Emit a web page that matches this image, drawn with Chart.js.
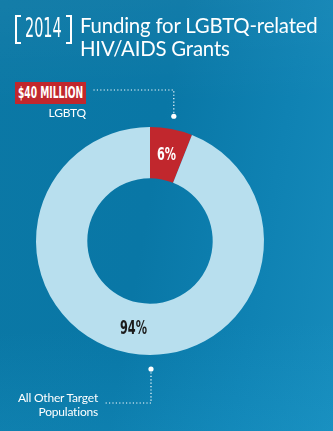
<!DOCTYPE html>
<html>
<head>
<meta charset="utf-8">
<script src="https://cdn.jsdelivr.net/npm/chart.js@4"></script>
<style>
  html, body { margin: 0; padding: 0; }
  body {
    width: 333px; height: 431px; overflow: hidden; position: relative;
    background:
      linear-gradient(178deg, rgba(255,255,255,0.04) 0%, rgba(255,255,255,0) 25%, rgba(0,0,0,0) 75%, rgba(40,170,220,0.18) 100%),
      linear-gradient(100deg, #0b78a5 0%, #0977a6 45%, #0f82b3 75%, #168bbb 100%);
    font-family: Lato, "Open Sans", sans-serif; color: #fff;
  }
  #chart { position: absolute; left: 0; top: 0; }
  .bracket { position: absolute; top: 15px; width: 4px; height: 25px; border: 2px solid #fff; }
  .bracket.l { left: 15px; border-right: none; }
  .bracket.r { left: 66px; border-left: none; }
  .fit { position: absolute; white-space: nowrap; transform-origin: left top;
         font-family: "DejaVu Sans Condensed", sans-serif; font-weight: bold; }
  .year { left: 25px; top: 13px; font-size: 26px; line-height: 30px; font-weight: normal; }
  .title { position: absolute; left: 80px; top: 14px; font-size: 20.4px; line-height: 23px; font-weight: 400; letter-spacing: -0.2px; }
  .amount { position: absolute; left: 15px; top: 82px; width: 71px; height: 22px; background: #c1272d; }
  .amount .fit { left: 3px; top: 2px; font-size: 15px; line-height: 18px; }
  .lbl { position: absolute; font-size: 12px; line-height: 14px; text-align: right; font-weight: 400; letter-spacing: -0.2px; }
</style>
</head>
<body>
<canvas id="chart" width="333" height="431"></canvas>
<div class="bracket l"></div><div class="bracket r"></div>
<div class="fit year" data-w="37">2014</div>
<div class="title">Funding for LGBTQ-related<br>HIV/AIDS Grants</div>
<div class="amount"><div class="fit" data-w="65">$40 MILLION</div></div>
<div class="lbl" style="right:247px; top:106px;">LGBTQ</div>
<div class="lbl" style="right:235px; top:391px;">All Other Target<br>Populations</div>
<script>
// Share of 2014 HIV/AIDS grant dollars
const categories = ['LGBTQ', 'All Other Target Populations'];
const shares = [6, 94];
const sliceColors = ['#c1272d', '#b8dfee'];
const labelColors = ['#ffffff', '#1b1b1b'];
const labelWidths = [19, 27];
const labelSizes = [18, 20];

// squeeze the condensed headings to their set widths
document.querySelectorAll('.fit').forEach(el => {
  el.style.transform = 'scaleX(' + (el.dataset.w / el.offsetWidth) + ')';
});

// percentages inside the ring + dotted leader lines to the callouts
const ringLabels = {
  id: 'ringLabels',
  afterDatasetsDraw(chart) {
    const ctx = chart.ctx;
    const arcs = chart.getDatasetMeta(0).data;
    ctx.save();
    arcs.forEach((arc, i) => {
      const p = arc.tooltipPosition();
      const txt = shares[i] + '%';
      ctx.save();
      ctx.font = 'bold ' + labelSizes[i] + 'px "DejaVu Sans Condensed", sans-serif';
      const sx = labelWidths[i] / ctx.measureText(txt).width;
      ctx.translate(p.x, p.y);
      ctx.scale(sx, 1);
      ctx.fillStyle = labelColors[i];
      ctx.textAlign = 'center';
      ctx.textBaseline = 'middle';
      ctx.fillText(txt, 0, 1);
      ctx.restore();
    });

    const a0 = arcs[0];
    const mid = (a0.startAngle + a0.endAngle) / 2;
    const R = a0.outerRadius;
    const top = { x: a0.x + Math.cos(mid) * (R + 13), y: a0.y + Math.sin(mid) * (R + 13) };
    const bot = { x: a0.x + 1, y: a0.y + R + 14 };

    ctx.strokeStyle = '#ffffff';
    ctx.lineWidth = 1.2;
    ctx.setLineDash([1.2, 2.2]);
    ctx.beginPath();
    ctx.moveTo(top.x, top.y);
    ctx.lineTo(top.x, 90);
    ctx.lineTo(92, 90);
    ctx.moveTo(bot.x, bot.y);
    ctx.lineTo(bot.x, 403);
    ctx.lineTo(105, 403);
    ctx.stroke();
    ctx.setLineDash([]);

    ctx.fillStyle = '#ffffff';
    [top, bot].forEach(d => {
      ctx.beginPath();
      ctx.arc(d.x, d.y, 2.6, 0, Math.PI * 2);
      ctx.fill();
    });
    ctx.restore();
  }
};

new Chart(document.getElementById('chart'), {
  type: 'doughnut',
  data: {
    labels: categories,
    datasets: [{ data: shares, backgroundColor: sliceColors, borderWidth: 0 }]
  },
  options: {
    responsive: false,
    animation: false,
    cutout: '55%',
    layout: { padding: { left: 36, right: 69, top: 127, bottom: 76 } },
    plugins: { legend: { display: false }, tooltip: { enabled: false } }
  },
  plugins: [ringLabels]
});
</script>
</body>
</html>
